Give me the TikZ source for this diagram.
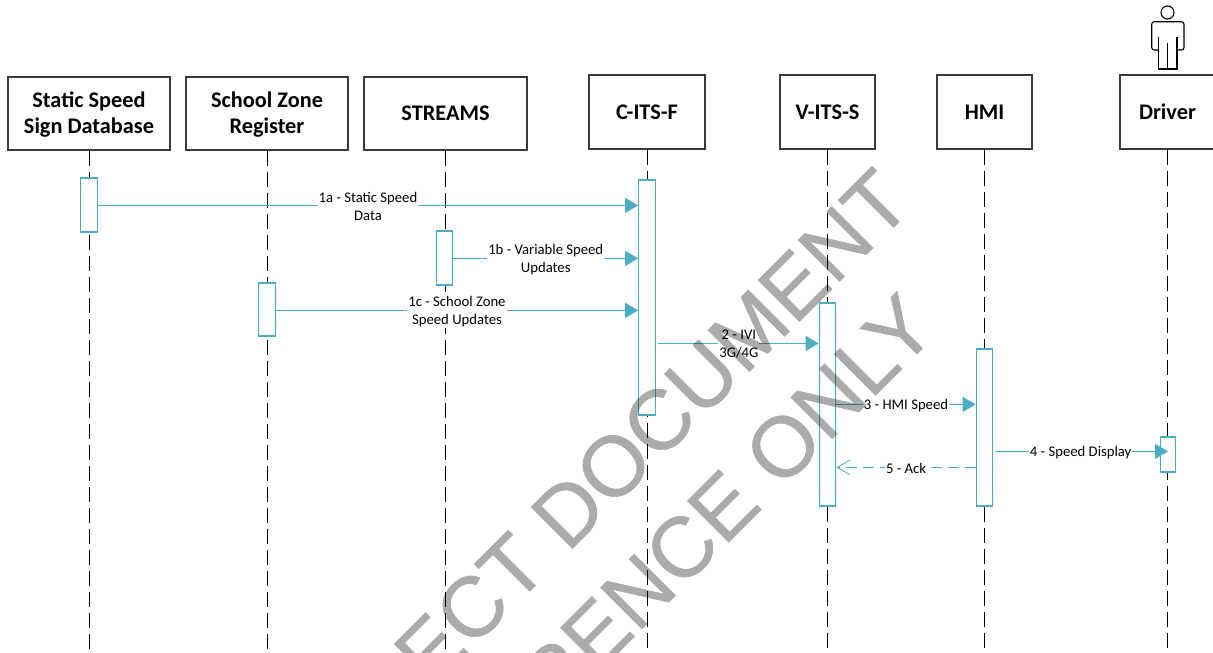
\documentclass[tikz,border=0pt]{standalone}
\usepackage{fontspec}
\setmainfont{Carlito}
\newfontfamily\wmfont[FakeBold=0.7]{Liberation Sans}
\usetikzlibrary{arrows.meta}
\definecolor{teal}{HTML}{4BACC6}
\definecolor{boxline}{HTML}{3A3A3A}
\newcommand\lowered[1]{\raisebox{-1.5pt}[\height][\depth]{\begin{tabular}{@{}c@{}}#1\end{tabular}}}
\tikzset{
  actor/.style={draw=boxline,line width=1.3pt,fill=white,inner sep=0pt,font=\fontsize{22.3}{26}\selectfont\bfseries,text=black},
  life/.style={draw=black,line width=1pt,dash pattern=on 15pt off 6pt},
  act/.style={draw=teal,line width=1.2pt,fill=white,inner sep=0pt,minimum width=16.5pt},
  msg/.style={draw=teal,line width=1.1pt,-{Triangle[length=13pt,width=15pt,fill=teal]}},
  ret/.style={draw=teal,line width=1.1pt,dash pattern=on 11pt off 6pt,-{Straight Barb[length=13pt,width=15pt,line width=0.8pt]}},
  lab/.style={fill=white,inner sep=1pt,align=center,yshift=-1pt,font=\fontsize{14.7}{18}\selectfont,text=black},
  wm/.style={font=\wmfont\fontsize{85}{85}\selectfont,text=black,rotate=45,anchor=base east,inner sep=0pt},
}
\begin{document}
\begin{tikzpicture}[x=1pt,y=-1pt]
\useasboundingbox (0,0) rectangle (1213,653);
\clip (0,0) rectangle (1213,653);
% actors
\node[actor,minimum width=162pt,minimum height=73pt] (a1) at (89,113.5) {\lowered{Static Speed\\Sign Database}};
\node[actor,minimum width=162pt,minimum height=73pt] (a2) at (267,113.5) {\lowered{School Zone\\Register}};
\node[actor,minimum width=163pt,minimum height=73pt] (a3) at (445.5,113.5) {STREAMS};
\node[actor,minimum width=116pt,minimum height=74pt] (a4) at (647,112) {C-ITS-F};
\node[actor,minimum width=95pt,minimum height=74pt] (a5) at (827.5,112) {V-ITS-S};
\node[actor,minimum width=95pt,minimum height=74pt] (a6) at (984.5,112) {HMI};
\node[actor,minimum width=95pt,minimum height=74pt] (a7) at (1167.5,112) {Driver};
% free ends of lifelines
\coordinate (e1) at (89,653);
\coordinate (e2) at (267,653);
\coordinate (e3) at (445,653);
\coordinate (e4) at (647,653);
\coordinate (e5) at (827,653);
\coordinate (e6) at (984,653);
\coordinate (e7) at (1167,653);
\foreach \i in {1,...,7} {\draw[life] (a\i.south -| e\i) -- (e\i);}
% activations
\node[act,minimum height=54pt] (b1) at (89,205) {};
\node[act,minimum height=54pt] (b3) at (444.5,258) {};
\node[act,minimum height=53pt] (b2) at (267,309.5) {};
\node[act,minimum height=235pt] (b4) at (647,297.5) {};
\node[act,minimum height=203pt] (b5) at (827.5,404.5) {};
\node[act,minimum height=157pt] (b6) at (984.5,427.5) {};
\node[act,minimum height=35pt,minimum width=15.5pt] (b7) at (1168,454.5) {};
% messages
\draw[msg] (b1.east |- 0,205.4) -- node[lab,pos=0.5] (m1) {1a - Static Speed\\Data} (b4.west |- 0,205.4);
\draw[msg] (b3.east |- 0,258.4) -- node[lab] (m2) {1b - Variable Speed\\Updates} (b4.west |- 0,258.4);
\draw[msg] (b2.east |- 0,310.4) -- node[lab,pos=0.5] (m3) {1c - School Zone\\Speed Updates} (b4.west |- 0,310.4);
\draw[msg,shorten <=2pt] (b4.east |- 0,343.4) -- node[lab,pos=0.51] (m4) {2 - IVI\\3G/4G} (b5.west |- 0,343.4);
\draw[msg] (b5.east |- 0,404.4) -- node[lab] (m5) {3 - HMI Speed} (b6.west |- 0,404.4);
\draw[msg,shorten <=2pt] (b6.east |- 0,451.4) -- node[lab] (m6) {4 - Speed Display} (b7.center |- 0,451.4);
\draw[ret] (b6.west |- 0,467.4) -- node[lab] (m7) {5 - Ack} (b5.east |- 0,467.4);
% watermark
\begin{scope}[transparency group,opacity=0.33]
\node[wm] (w1) at (915,206) {PROJECT DOCUMENT};
\node[wm] (w2) at (940,331) {REFERENCE ONLY};
\end{scope}
% person
\node[draw=black,line width=1.1pt,circle,inner sep=0pt,minimum size=13pt] (head) at (1167.5,12.5) {};
\draw[black,line width=1.1pt,rounded corners=2.5pt] (1158.3,50) -- (1151.7,50) -- (1151.7,21.7) -- (1184,21.7) -- (1184,50) -- (1177,50);
\draw[black,line width=1.1pt] (1158.3,37) -- (1158.3,69) -- (1177,69) -- (1177,37);
\draw[black,line width=1.1pt] (1167.7,43) -- (1167.7,69);
\end{tikzpicture}
\end{document}
